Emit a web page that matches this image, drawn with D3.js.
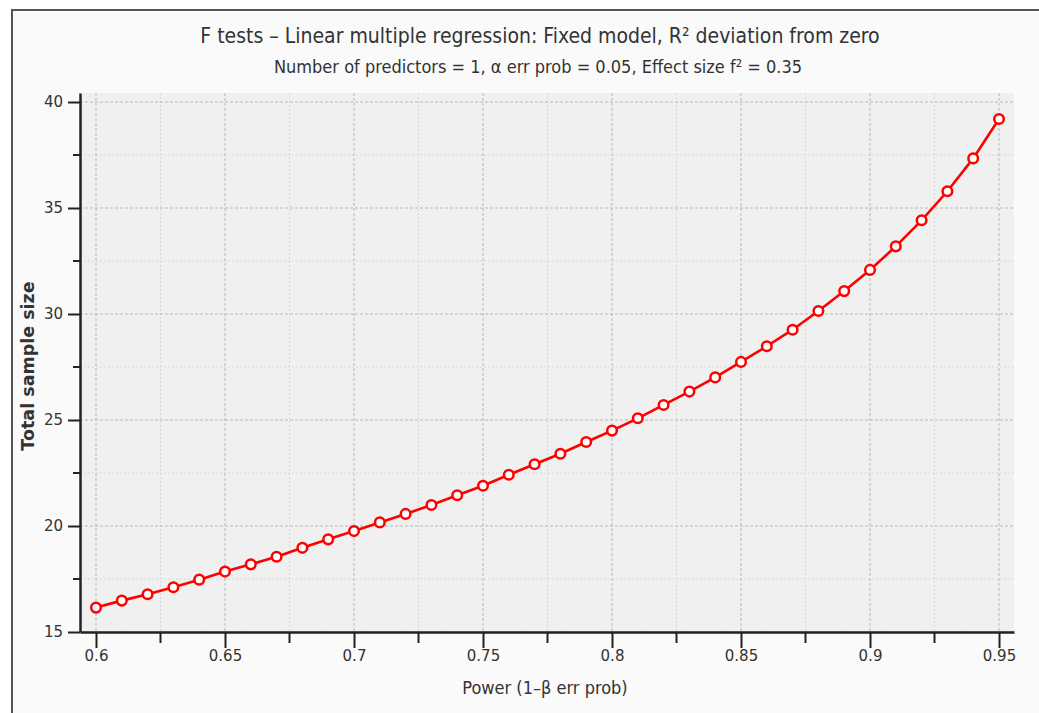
<!DOCTYPE html>
<html>
<head>
<meta charset="utf-8">
<script src="https://cdn.jsdelivr.net/npm/d3@7"></script>
<style>
body { margin: 0; background: #fff; }
svg text { fill: #333; }
</style>
</head>
<body>
<svg width="1039" height="713"></svg>
<script>
var power = [0.60, 0.61, 0.62, 0.63, 0.64, 0.65, 0.66, 0.67, 0.68, 0.69,
             0.70, 0.71, 0.72, 0.73, 0.74, 0.75, 0.76, 0.77, 0.78, 0.79,
             0.80, 0.81, 0.82, 0.83, 0.84, 0.85, 0.86, 0.87, 0.88, 0.89,
             0.90, 0.91, 0.92, 0.93, 0.94, 0.95];
var sampleSize = [16.15, 16.48, 16.78, 17.11, 17.47, 17.85, 18.19, 18.55, 18.97, 19.37,
                  19.76, 20.17, 20.57, 20.99, 21.45, 21.90, 22.42, 22.91, 23.41, 23.96,
                  24.50, 25.08, 25.71, 26.34, 27.01, 27.74, 28.48, 29.26, 30.14, 31.08,
                  32.08, 33.19, 34.42, 35.79, 37.34, 39.20];
var xTicks = [0.6, 0.65, 0.7, 0.75, 0.8, 0.85, 0.9, 0.95];
var xMinor = [0.625, 0.675, 0.725, 0.775, 0.825, 0.875, 0.925];
var yTicks = [15, 20, 25, 30, 35, 40];
var yMinor = [17.5, 22.5, 27.5, 32.5, 37.5];

var svg = d3.select("svg");
var pLeft = 80, pRight = 1014, pTop = 93, pBottom = 632;

// panel frame
svg.append("rect").attr("x", 12).attr("y", 10).attr("width", 1040).attr("height", 720)
  .attr("fill", "#fafafa").attr("stroke", "#555").attr("stroke-width", 2);

var x = d3.scaleLinear().domain([0.6 - 16 / 129 * 0.05, 0.95 + 15 / 129 * 0.05]).range([pLeft, pRight]);
var y = d3.scaleLinear().domain([15, 15 + (pBottom - pTop) / 21.2]).range([pBottom, pTop]);

svg.append("rect").attr("x", pLeft).attr("y", pTop)
  .attr("width", pRight - pLeft).attr("height", pBottom - pTop).attr("fill", "#f0f0f0");

var grid = svg.append("g");
grid.selectAll(".xminor").data(xMinor).enter().append("line")
  .attr("x1", x).attr("x2", x).attr("y1", pTop).attr("y2", pBottom)
  .attr("stroke", "#d8d8d8").attr("stroke-dasharray", "2,2");
grid.selectAll(".yminor").data(yMinor).enter().append("line")
  .attr("y1", y).attr("y2", y).attr("x1", pLeft).attr("x2", pRight)
  .attr("stroke", "#d8d8d8").attr("stroke-dasharray", "2,2");
grid.selectAll(".xmajor").data(xTicks).enter().append("line")
  .attr("x1", x).attr("x2", x).attr("y1", pTop).attr("y2", pBottom)
  .attr("stroke", "#b8b8b8").attr("stroke-dasharray", "3,2");
grid.selectAll(".ymajor").data(yTicks).enter().append("line")
  .attr("y1", y).attr("y2", y).attr("x1", pLeft).attr("x2", pRight)
  .attr("stroke", "#b8b8b8").attr("stroke-dasharray", "3,2");

// axes
var xAxis = svg.append("g").attr("transform", "translate(0," + pBottom + ")")
  .call(d3.axisBottom(x).tickValues(xTicks).tickSize(16).tickSizeOuter(0)
    .tickFormat(function(d) { return String(+d.toFixed(2)); }));
xAxis.select(".domain").attr("stroke", "#222").attr("stroke-width", 2.5);
xAxis.selectAll(".tick line").attr("stroke", "#222").attr("stroke-width", 2);
xAxis.selectAll(".tick text").attr("dy", "1.1em").attr("y", 12)
  .style("font-family", "DejaVu Sans").style("font-size", "15px");
xAxis.selectAll(".minor").data(xMinor).enter().append("line")
  .attr("x1", x).attr("x2", x).attr("y1", 0).attr("y2", 11)
  .attr("stroke", "#222").attr("stroke-width", 2);

var yAxis = svg.append("g").attr("transform", "translate(" + pLeft + ",0)")
  .call(d3.axisLeft(y).tickValues(yTicks).tickSize(12).tickSizeOuter(0));
yAxis.select(".domain").attr("stroke", "#222").attr("stroke-width", 2.5);
yAxis.selectAll(".tick line").attr("stroke", "#222").attr("stroke-width", 2);
yAxis.selectAll(".tick text").attr("x", -17)
  .style("font-family", "DejaVu Sans").style("font-size", "15px");
yAxis.selectAll(".minor").data(yMinor).enter().append("line")
  .attr("y1", y).attr("y2", y).attr("x1", -7).attr("x2", 0)
  .attr("stroke", "#222").attr("stroke-width", 2);
svg.selectAll(".tick text").style("fill", "#333");

// curve
var line = d3.line().x(function(d, i) { return x(power[i]); }).y(function(d) { return y(d); });
svg.append("path").datum(sampleSize).attr("d", line)
  .attr("fill", "none").attr("stroke", "#ff0000").attr("stroke-width", 2.6);
svg.selectAll(".pt").data(sampleSize).enter().append("circle")
  .attr("cx", function(d, i) { return x(power[i]); }).attr("cy", y).attr("r", 4.8)
  .attr("fill", "#fff").attr("stroke", "#ff0000").attr("stroke-width", 2.5);

// titles
svg.append("text").attr("x", 540).attr("y", 43).attr("text-anchor", "middle")
  .style("font-family", "DejaVu Sans Condensed").style("font-size", "21px")
  .text("F tests \u2013 Linear multiple regression: Fixed model, R\u00b2 deviation from zero");
svg.append("text").attr("x", 538).attr("y", 73).attr("text-anchor", "middle")
  .style("font-family", "DejaVu Sans Condensed").style("font-size", "18px")
  .text("Number of predictors = 1, \u03b1 err prob = 0.05, Effect size f\u00b2 = 0.35");
svg.append("text").attr("x", 545).attr("y", 694).attr("text-anchor", "middle")
  .style("font-family", "DejaVu Sans Condensed").style("font-size", "18px")
  .text("Power (1\u2013\u03b2 err prob)");
svg.append("text").attr("transform", "translate(34,366) rotate(-90)").attr("text-anchor", "middle")
  .style("font-family", "DejaVu Sans").style("font-size", "17.5px").style("font-weight", "bold")
  .text("Total sample size");
</script>
</body>
</html>
